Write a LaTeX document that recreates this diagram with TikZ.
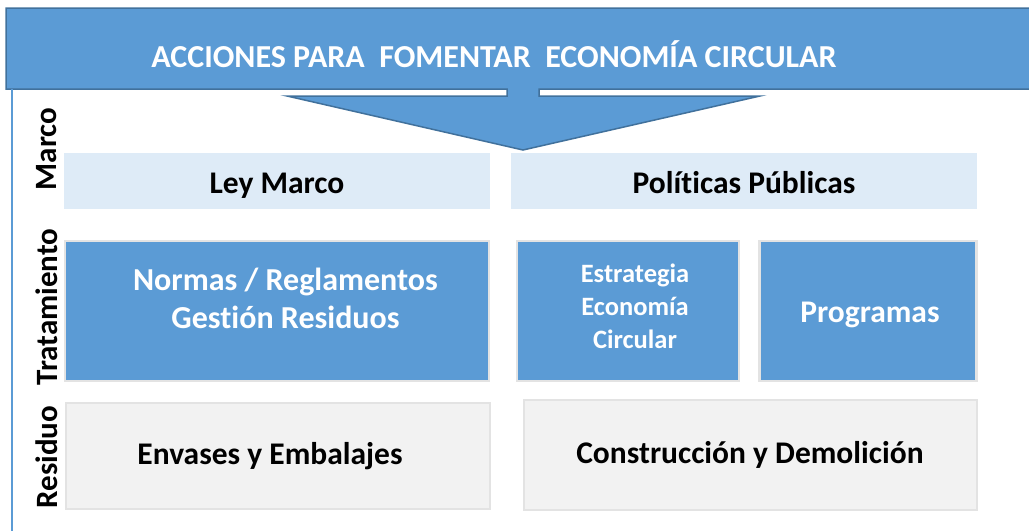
\documentclass[tikz,border=0pt]{standalone}
\usepackage{fontspec}
\setmainfont{Carlito}[Ligatures={NoCommon}]
\definecolor{azul}{HTML}{5B9BD5}
\definecolor{azulosc}{HTML}{41719C}
\definecolor{celeste}{HTML}{DEEBF7}
\definecolor{grisclaro}{HTML}{F2F2F2}
\definecolor{borde}{HTML}{E3E3E3}
\begin{document}
\begin{tikzpicture}[x=1pt, y=-1pt,
  marcobox/.style={rectangle, fill=celeste, inner sep=0pt, text height=28pt, text depth=4pt, font=\fontsize{31.5}{38}\selectfont\bfseries},
  tratbox/.style={rectangle, fill=azul, draw=borde, line width=2.5pt, inner sep=0pt, text=white, align=center, font=\fontsize{31.5}{38}\selectfont\bfseries},
  resbox/.style={rectangle, fill=grisclaro, draw=borde, line width=2pt, inner sep=0pt, font=\fontsize{31.5}{38}\selectfont\bfseries},
  rowlabel/.style={rotate=90, inner sep=0pt, font=\fontsize{31}{36}\selectfont\bfseries}]
\useasboundingbox (0,0) rectangle (1029,531);
% banner with arrow
\draw[fill=azul, draw=azulosc, line width=1.5pt] (6,8) -- (1040,8) -- (1040,89) -- (539,89) -- (539,96) -- (760,96) -- (523,150) -- (287,96) -- (507,96) -- (507,89) -- (6,89) -- cycle;
\node[text=white, font=\fontsize{32}{36}\selectfont\bfseries] (titulo) at (494,54) {ACCIONES PARA\ \ FOMENTAR\ \ ECONOMÍA CIRCULAR};
\draw[azul, line width=2pt] (12,89) -- (12,531);
% marco
\node[marcobox, minimum width=426, minimum height=56] (ley) at (277,181) {Ley Marco};
\node[marcobox, minimum width=466, minimum height=56] (pol) at (744,181) {Políticas Públicas};
% tratamiento
\node[tratbox, minimum width=424, minimum height=140, text height=40pt, text depth=6pt, font=\fontsize{32}{38}\selectfont\bfseries] (normas) at (277,311) {\hspace*{17pt}Normas / Reglamentos\\\hspace*{17pt}Gestión Residuos};
\node[tratbox, minimum width=222, minimum height=140, text height=80pt, text depth=5pt, font=\fontsize{26.5}{33}\selectfont\bfseries] (estr) at (628,311) {\hspace*{14pt}Estrategia\\\hspace*{14pt}Economía\\\hspace*{14pt}Circular};
\node[tratbox, minimum width=217, minimum height=140, text height=26pt, text depth=4pt] (prog) at (868,311) {\hspace*{4pt}Programas};
% residuo
\node[resbox, minimum width=424, minimum height=106] (env) at (278,456) {Envases y Embalajes\hspace*{16pt}};
\node[resbox, minimum width=453, minimum height=110] (cons) at (750,455) {Construcción y Demolición};
% etiquetas
\node[rowlabel] (lmarco) at (47,149) {Marco};
\node[rowlabel] (ltrat) at (47,307) {Tratamiento};
\node[rowlabel] (lres) at (47,457) {Residuo};
\end{tikzpicture}
\end{document}
